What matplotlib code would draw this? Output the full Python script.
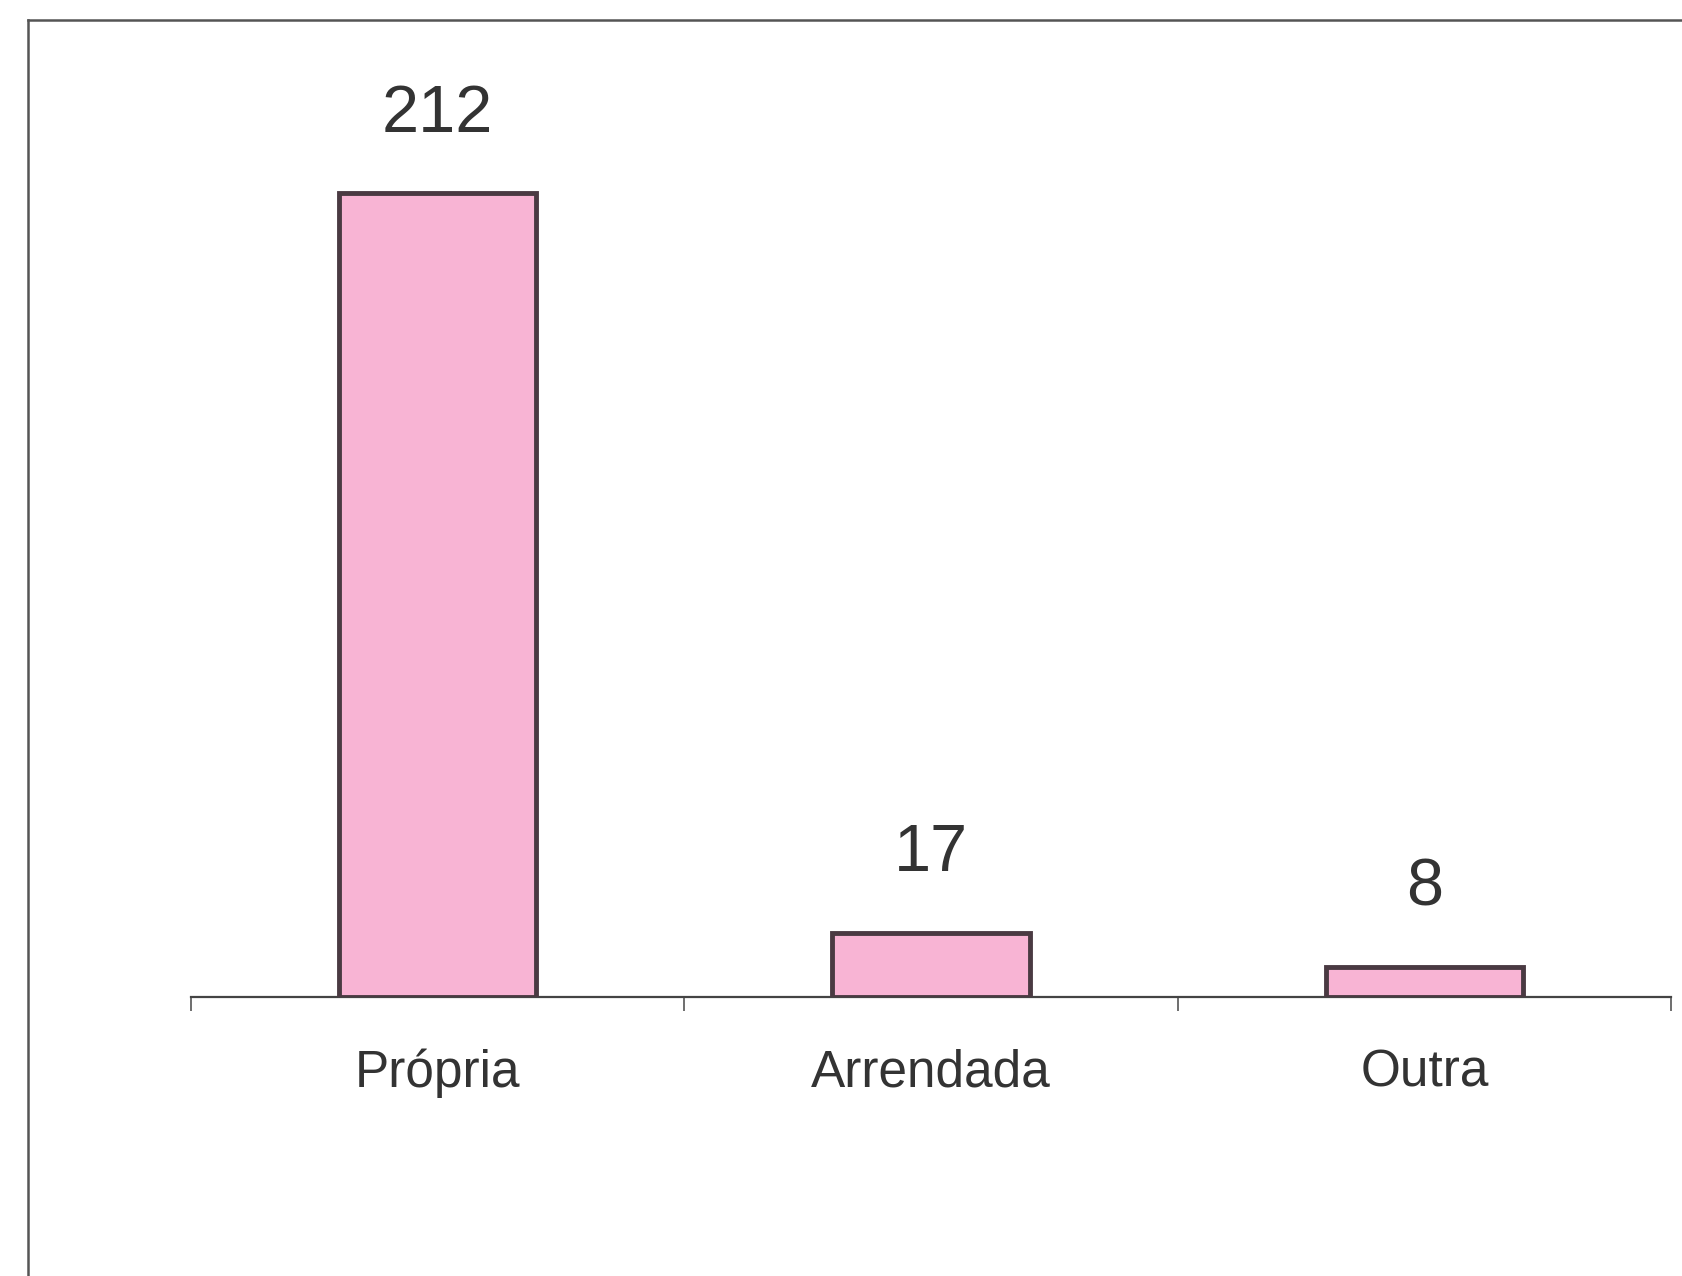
import matplotlib
matplotlib.use("Agg")
import matplotlib.pyplot as plt
from matplotlib.lines import Line2D

categories = ["Própria", "Arrendada", "Outra"]
values = [212, 17, 8]

plt.rcParams['font.family'] = ['Liberation Sans', 'DejaVu Sans']

W, H = 1682, 1276
fig = plt.figure(figsize=(W / 100, H / 100), dpi=100)
fig.patch.set_facecolor('white')

ax_left, ax_right = 191 / W, 1671 / W
ax_bottom = (H - 997) / H
ax_top = 1 - 20 / H
ax = fig.add_axes([ax_left, ax_bottom, ax_right - ax_left, ax_top - ax_bottom])

px_per_unit = (997 - 193) / 212.0
ax.set_ylim(0, (997 - 20) / px_per_unit)
ax.set_xlim(-0.5, len(categories) - 0.5)

x = list(range(len(categories)))
ax.bar(x, values, width=0.40, color='#F8B4D4', edgecolor='#4a3a42',
       linewidth=3.5, zorder=3)

for xi, v in zip(x, values):
    ax.annotate(str(v), (xi, v), xytext=(0, 34), textcoords='offset points',
                ha='center', va='bottom', fontsize=48, color='#333333')

for s in ['top', 'right', 'left']:
    ax.spines[s].set_visible(False)
ax.spines['bottom'].set_color('#444444')
ax.spines['bottom'].set_linewidth(1.6)
ax.set_yticks([])

ax.set_xticks([i - 0.5 for i in range(len(categories) + 1)])
ax.set_xticklabels([])
ax.tick_params(axis='x', direction='out', length=10, width=1.2, color='#555555')
for xi, c in zip(x, categories):
    ax.text(xi, -13.5, c, ha='center', va='top', fontsize=37, color='#333333',
            transform=ax.transData, clip_on=False)

# outer frame
fig.add_artist(Line2D([28 / W, 1.0], [1 - 20 / H, 1 - 20 / H],
                      transform=fig.transFigure, color='#555555', linewidth=1.8))
fig.add_artist(Line2D([28 / W, 28 / W], [0.0, 1 - 20 / H],
                      transform=fig.transFigure, color='#555555', linewidth=1.8))

fig.savefig("out.png", dpi=100, facecolor='white')
